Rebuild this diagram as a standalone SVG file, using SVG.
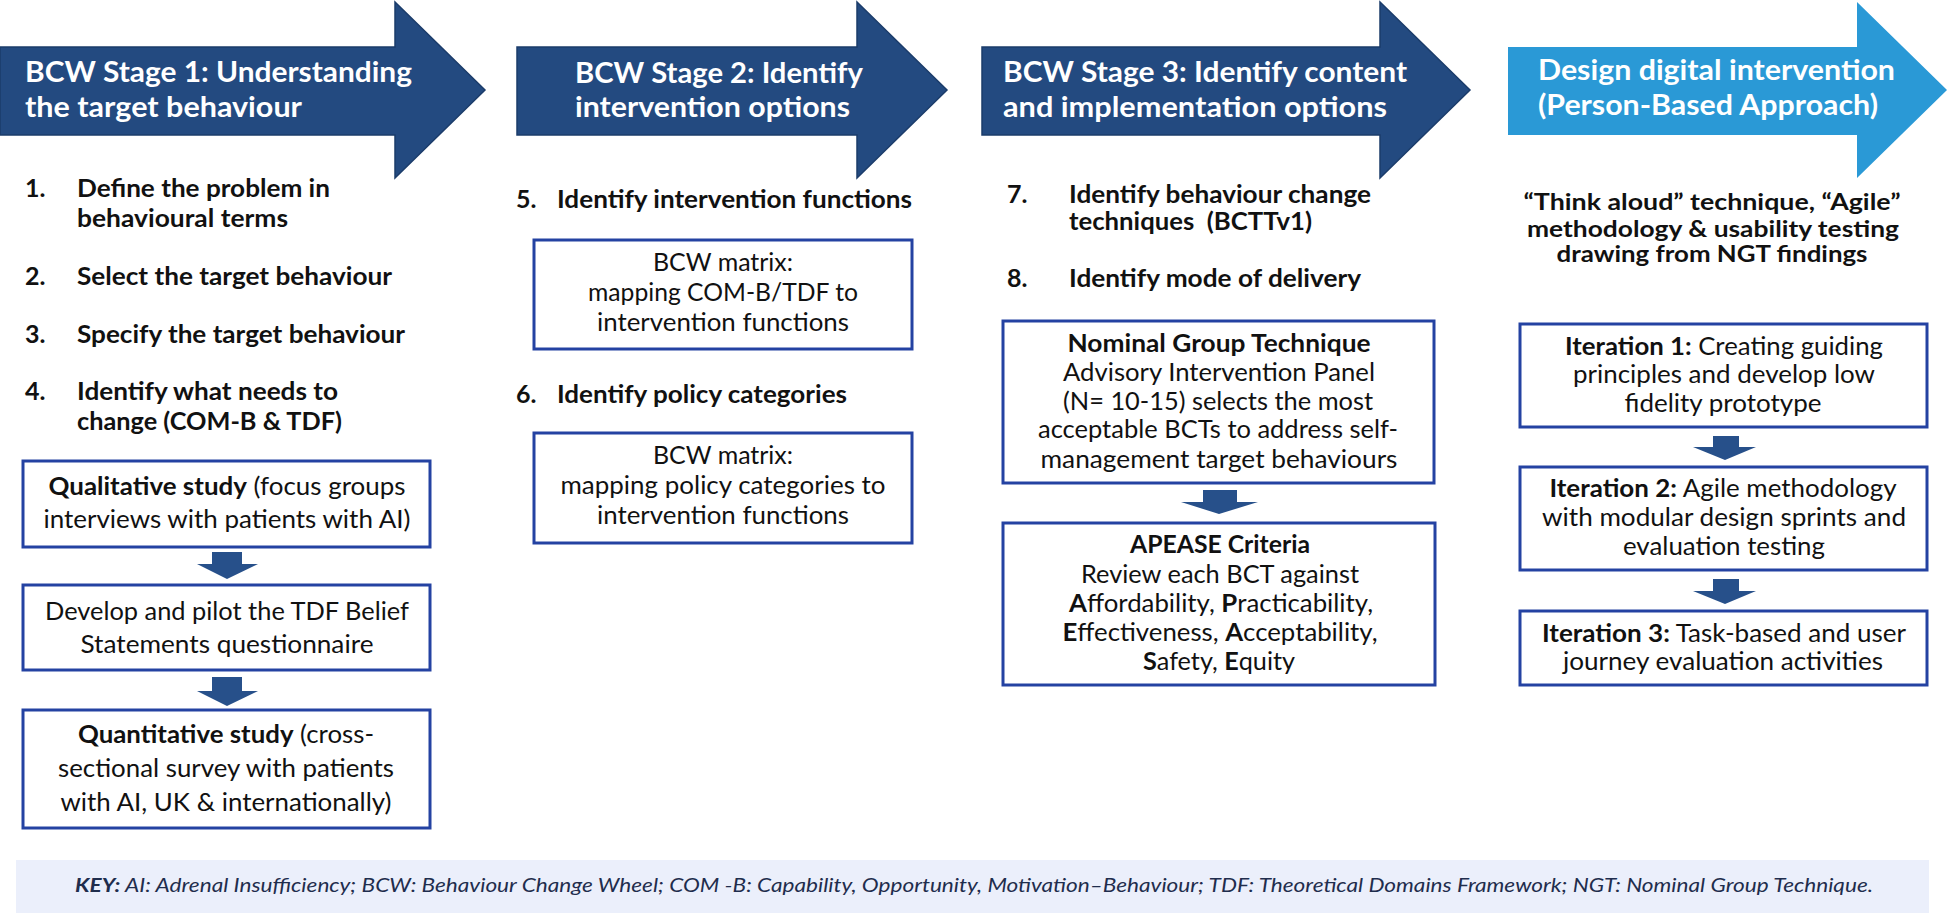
<svg xmlns="http://www.w3.org/2000/svg" width="1947" height="913" viewBox="0 0 1947 913">
<style>
.bg{fill:#ffffff}
.arrD{fill:#234A80;stroke:#1B3C6A;stroke-width:1.5}
.arrL{fill:#2A99D6}
text{font-family:Lato,"Liberation Sans",sans-serif}
.head{font-weight:bold;font-size:29px;fill:#ffffff}
.step{font-weight:bold;font-size:25px;fill:#111111}
.box{fill:#ffffff;stroke:#2442A2;stroke-width:3}
.bt{font-size:25px;fill:#111111;text-anchor:middle}
.b{font-weight:bold}
.sm{font-weight:bold;font-size:23px;fill:#111111;text-anchor:middle}
.dn{fill:#27508A}
.key{fill:#EBEFFB}
.kt{font-style:italic;font-size:19px;fill:#1F2D4D}
</style>
<rect class="bg" x="0" y="0" width="1947" height="913"/>

<g id="stage1">
<polygon class="arrD" points="0,47 395,47 395,2 485,90 395,178 395,135 0,135"/>
<text class="head" x="25" y="82" textLength="387" lengthAdjust="spacingAndGlyphs">BCW Stage 1: Understanding</text>
<text class="head" x="25" y="117" textLength="277" lengthAdjust="spacingAndGlyphs">the target behaviour</text>
</g>
<g id="stage2">
<polygon class="arrD" points="517,47 857,47 857,2 947,90 857,178 857,135 517,135"/>
<text class="head" x="575" y="83" textLength="288" lengthAdjust="spacingAndGlyphs">BCW Stage 2: Identify</text>
<text class="head" x="575" y="117" textLength="275" lengthAdjust="spacingAndGlyphs">intervention options</text>
</g>
<g id="stage3">
<polygon class="arrD" points="982,47 1380,47 1380,2 1470,90 1380,178 1380,135 982,135"/>
<text class="head" x="1003" y="82" textLength="404" lengthAdjust="spacingAndGlyphs">BCW Stage 3: Identify content</text>
<text class="head" x="1003" y="117" textLength="384" lengthAdjust="spacingAndGlyphs">and implementation options</text>
</g>
<g id="stage4">
<polygon class="arrL" points="1508,47 1857,47 1857,2 1947,90 1857,178 1857,135 1508,135"/>
<text class="head" x="1538" y="80" textLength="357" lengthAdjust="spacingAndGlyphs">Design digital intervention</text>
<text class="head" x="1538" y="115" textLength="340" lengthAdjust="spacingAndGlyphs">(Person-Based Approach)</text>
</g>

<g id="steps1">
<text class="step" x="25" y="197">1.</text>
<text class="step" x="77" y="197" textLength="253" lengthAdjust="spacingAndGlyphs">Define the problem in</text>
<text class="step" x="77" y="227" textLength="211" lengthAdjust="spacingAndGlyphs">behavioural terms</text>
<text class="step" x="25" y="285">2.</text>
<text class="step" x="77" y="285" textLength="315" lengthAdjust="spacingAndGlyphs">Select the target behaviour</text>
<text class="step" x="25" y="343">3.</text>
<text class="step" x="77" y="343" textLength="328" lengthAdjust="spacingAndGlyphs">Specify the target behaviour</text>
<text class="step" x="25" y="400">4.</text>
<text class="step" x="77" y="400" textLength="261" lengthAdjust="spacingAndGlyphs">Identify what needs to</text>
<text class="step" x="77" y="430" textLength="265" lengthAdjust="spacingAndGlyphs">change (COM-B &amp; TDF)</text>
</g>
<g id="qual">
<rect class="box" x="23" y="461" width="407" height="86"/>
<text class="bt" x="227" y="495" textLength="357" lengthAdjust="spacingAndGlyphs"><tspan class="b">Qualitative study</tspan> (focus groups</text>
<text class="bt" x="227" y="528" textLength="367" lengthAdjust="spacingAndGlyphs">interviews with patients with AI)</text>
</g>
<g id="tdf">
<rect class="box" x="23" y="585" width="407" height="85"/>
<text class="bt" x="227" y="620" textLength="364" lengthAdjust="spacingAndGlyphs">Develop and pilot the TDF Belief</text>
<text class="bt" x="227" y="653" textLength="293" lengthAdjust="spacingAndGlyphs">Statements questionnaire</text>
</g>
<g id="quant">
<rect class="box" x="23" y="710" width="407" height="118"/>
<text class="bt" x="226" y="743" textLength="296" lengthAdjust="spacingAndGlyphs"><tspan class="b">Quantitative study</tspan> (cross-</text>
<text class="bt" x="226" y="777" textLength="336" lengthAdjust="spacingAndGlyphs">sectional survey with patients</text>
<text class="bt" x="226" y="811" textLength="331" lengthAdjust="spacingAndGlyphs">with AI, UK &amp; internationally)</text>
</g>

<g id="steps2">
<text class="step" x="516" y="208">5.</text>
<text class="step" x="557" y="208" textLength="355" lengthAdjust="spacingAndGlyphs">Identify intervention functions</text>
<text class="step" x="516" y="403">6.</text>
<text class="step" x="557" y="403" textLength="290" lengthAdjust="spacingAndGlyphs">Identify policy categories</text>
</g>
<g id="matrix1">
<rect class="box" x="534" y="240" width="378" height="109"/>
<text class="bt" x="723" y="271" textLength="140" lengthAdjust="spacingAndGlyphs">BCW matrix:</text>
<text class="bt" x="723" y="301" textLength="270" lengthAdjust="spacingAndGlyphs">mapping COM-B/TDF to</text>
<text class="bt" x="723" y="331" textLength="252" lengthAdjust="spacingAndGlyphs">intervention functions</text>
</g>
<g id="matrix2">
<rect class="box" x="534" y="433" width="378" height="110"/>
<text class="bt" x="723" y="464" textLength="140" lengthAdjust="spacingAndGlyphs">BCW matrix:</text>
<text class="bt" x="723" y="494" textLength="325" lengthAdjust="spacingAndGlyphs">mapping policy categories to</text>
<text class="bt" x="723" y="524" textLength="252" lengthAdjust="spacingAndGlyphs">intervention functions</text>
</g>

<g id="steps3">
<text class="step" x="1007" y="203">7.</text>
<text class="step" x="1069" y="203" textLength="302" lengthAdjust="spacingAndGlyphs">Identify behaviour change</text>
<text class="step" x="1069" y="230" textLength="243" lengthAdjust="spacingAndGlyphs" xml:space="preserve">techniques  (BCTTv1)</text>
<text class="step" x="1007" y="287">8.</text>
<text class="step" x="1069" y="287" textLength="292" lengthAdjust="spacingAndGlyphs">Identify mode of delivery</text>
</g>
<g id="ngt">
<rect class="box" x="1003" y="321" width="431" height="162"/>
<text class="bt b" x="1219" y="352" textLength="303" lengthAdjust="spacingAndGlyphs">Nominal Group Technique</text>
<text class="bt" x="1219" y="381" textLength="312" lengthAdjust="spacingAndGlyphs">Advisory Intervention Panel</text>
<text class="bt" x="1218" y="410" textLength="310" lengthAdjust="spacingAndGlyphs">(N= 10-15) selects the most</text>
<text class="bt" x="1218" y="438" textLength="360" lengthAdjust="spacingAndGlyphs">acceptable BCTs to address self-</text>
<text class="bt" x="1219" y="468" textLength="357" lengthAdjust="spacingAndGlyphs">management target behaviours</text>
</g>
<g id="apease">
<rect class="box" x="1003" y="523" width="432" height="162"/>
<text class="bt b" x="1220" y="553" textLength="180" lengthAdjust="spacingAndGlyphs">APEASE Criteria</text>
<text class="bt" x="1220" y="583" textLength="278" lengthAdjust="spacingAndGlyphs">Review each BCT against</text>
<text class="bt" x="1221" y="612" textLength="304" lengthAdjust="spacingAndGlyphs"><tspan class="b">A</tspan>ffordability, <tspan class="b">P</tspan>racticability,</text>
<text class="bt" x="1220" y="641" textLength="315" lengthAdjust="spacingAndGlyphs"><tspan class="b">E</tspan>ffectiveness, <tspan class="b">A</tspan>cceptability,</text>
<text class="bt" x="1219" y="670" textLength="152" lengthAdjust="spacingAndGlyphs"><tspan class="b">S</tspan>afety, <tspan class="b">E</tspan>quity</text>
</g>

<g id="design-note">
<text class="sm" x="1712" y="210" textLength="377" lengthAdjust="spacingAndGlyphs">“Think aloud” technique, “Agile”</text>
<text class="sm" x="1713" y="237" textLength="372" lengthAdjust="spacingAndGlyphs">methodology &amp; usability testing</text>
<text class="sm" x="1712" y="262" textLength="311" lengthAdjust="spacingAndGlyphs">drawing from NGT findings</text>
</g>
<g id="iter1">
<rect class="box" x="1520" y="324" width="407" height="103"/>
<text class="bt" x="1724" y="355" textLength="318" lengthAdjust="spacingAndGlyphs"><tspan class="b">Iteration 1:</tspan> Creating guiding</text>
<text class="bt" x="1724" y="383" textLength="302" lengthAdjust="spacingAndGlyphs">principles and develop low</text>
<text class="bt" x="1723" y="412" textLength="197" lengthAdjust="spacingAndGlyphs">fidelity prototype</text>
</g>
<g id="iter2">
<rect class="box" x="1520" y="467" width="407" height="103"/>
<text class="bt" x="1723" y="497" textLength="347" lengthAdjust="spacingAndGlyphs"><tspan class="b">Iteration 2:</tspan> Agile methodology</text>
<text class="bt" x="1724" y="526" textLength="364" lengthAdjust="spacingAndGlyphs">with modular design sprints and</text>
<text class="bt" x="1724" y="555" textLength="202" lengthAdjust="spacingAndGlyphs">evaluation testing</text>
</g>
<g id="iter3">
<rect class="box" x="1520" y="611" width="407" height="74"/>
<text class="bt" x="1724" y="642" textLength="364" lengthAdjust="spacingAndGlyphs"><tspan class="b">Iteration 3:</tspan> Task-based and user</text>
<text class="bt" x="1723" y="670" textLength="320" lengthAdjust="spacingAndGlyphs">journey evaluation activities</text>
</g>

<g id="connectors">
<polygon class="dn" points="212,552 242,552 242,564 258,564 227,579 197,564 212,564"/>
<polygon class="dn" points="212,677 242,677 242,691 258,691 227,706 197,691 212,691"/>
<polygon class="dn" points="1203,490 1237,490 1237,502 1258,502 1219,514 1181,502 1203,502"/>
<polygon class="dn" points="1713,436 1739,436 1739,447 1756,447 1725,460 1693,447 1713,447"/>
<polygon class="dn" points="1713,579 1739,579 1739,591 1756,591 1725,604 1693,591 1713,591"/>
</g>

<g id="key">
<rect class="key" x="16" y="860" width="1913" height="53"/>
<text class="kt" x="75" y="892" textLength="1798" lengthAdjust="spacingAndGlyphs"><tspan font-weight="bold">KEY:</tspan> AI: Adrenal Insufficiency; BCW: Behaviour Change Wheel; COM -B: Capability, Opportunity, Motivation–Behaviour; TDF: Theoretical Domains Framework; NGT: Nominal Group Technique.</text>
</g>
</svg>
